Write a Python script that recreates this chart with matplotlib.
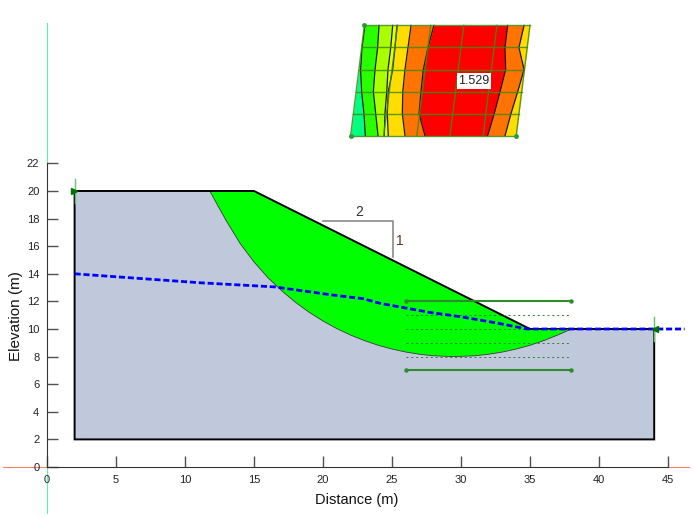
import numpy as np
import matplotlib
matplotlib.use('Agg')
import matplotlib.pyplot as plt

plt.rcParams['font.family'] = ['Liberation Sans', 'DejaVu Sans']

# slope geometry (m)
ground_x = [2, 15, 35, 44, 44, 2, 2]
ground_y = [20, 20, 10, 10, 2, 2, 20]

# slip surface
slip_x = [11.8, 12.4, 13, 14, 15, 16, 17, 18, 19, 20, 21, 22, 23, 24, 25, 26, 27, 28, 29.5, 31, 32, 33, 34, 35, 36, 37, 38]
slip_y = [20, 18.9, 17.83, 16.19, 14.86, 13.73, 12.78, 11.94, 11.21, 10.58, 10.03, 9.56, 9.16, 8.82, 8.55, 8.33, 8.17, 8.06, 8.0, 8.06, 8.17, 8.33, 8.55, 8.82, 9.16, 9.56, 10]
# top of the sliding mass
crest_x = [11.8, 15, 35, 38]
crest_y = [20, 20, 10, 10]

# water table
water_x = [2, 11.1, 16.5, 20.7, 22.9, 24.13, 27.75, 29.9, 32.5, 34.8, 46.2]
water_y = [14, 13.35, 13.05, 12.46, 12.2, 11.86, 11.2, 10.9, 10.45, 10, 10]

# entry and exit ranges
range_solid_y = [12, 7]
range_dash_y = [11, 10, 9, 8]
range_x = [26, 38]

# safety factor grid
grid_y = [32, 30.4, 28.8, 27.2, 25.6, 24]
grid_left = [23, 22.8, 22.6, 22.4, 22.2, 22]
grid_right = [35, 34.8, 34.6, 34.4, 34.2, 34]

# contour boundaries across the grid, left to right, one value per grid row
b1 = [23.04, 22.83, 22.73, 22.80, 22.97, 23.07]
b2 = [24.06, 23.96, 23.77, 23.65, 23.82, 23.99]
b3 = [25.05, 24.91, 24.71, 24.62, 24.49, 24.44]
b4 = [25.36, 25.22, 25.05, 24.73, 24.66, 24.73]
b5 = [26.38, 26.16, 25.94, 25.78, 25.75, 25.94]
b6 = [28.04, 27.61, 27.27, 27.10, 26.96, 27.39]
b7 = [33.38, 33.19, 33.24, 32.83, 32.41, 31.93]
b8 = [34.57, 34.20, 34.57, 34.11, 33.62, 33.19]
band_colors = ['#00ff80', '#2aff00', '#aaff00', '#e6ff00', '#ffdd00', '#ff7300', '#ff0000', '#ff7300', '#ffdd00']

fos_label = '1.529'
fos_x = 30.95
fos_y = 27.97

xticks = [0, 5, 10, 15, 20, 25, 30, 35, 40, 45]
yticks = [0, 2, 4, 6, 8, 10, 12, 14, 16, 18, 20, 22]

fig = plt.figure(figsize=(6.95, 5.18), dpi=100)
ax = fig.add_axes([0, 0, 1, 1])
scale = 13.8
ax.set_xlim(-47 / scale, (695 - 47) / scale)
ax.set_ylim((467 - 518) / scale, 467 / scale)

ax.fill(ground_x, ground_y, color='#c0c8dc', zorder=1, lw=0)
ax.fill(slip_x + crest_x[::-1], slip_y + crest_y[::-1], color='#00ff00', zorder=2, lw=0)
ax.plot(slip_x, slip_y, color='#3a3a3a', lw=0.6, zorder=3)
ax.plot(ground_x, ground_y, color='black', lw=1.4, zorder=4, solid_joinstyle='miter')

# slope ratio symbol
ax.plot([20, 25.05, 25.05], [17.8, 17.8, 15.2], color='#808080', lw=1.1, zorder=3)
ax.text(22.6, 18.5, '2', fontsize=10, ha='center', va='center', color='#333333')
ax.text(25.6, 16.4, '1', fontsize=10, ha='center', va='center', color='#5a3a20')

for y in range_solid_y:
    ax.plot(range_x, [y, y], color='#2e8b2e', lw=1.5, marker='o', ms=2.2, zorder=5)
for y in range_dash_y:
    ax.plot(range_x, [y, y], color='#2e7d2e', lw=0.7, ls=(0, (2, 3)), zorder=5)

ax.plot(water_x, water_y, color='#0000ff', lw=2.0, ls=(0, (2.2, 1)), zorder=6)

# water table end markers
ax.plot([2, 2], [19.1, 20.9], color='#6fbe6f', lw=1, zorder=7)
ax.plot([44, 44], [9.1, 10.9], color='#6fbe6f', lw=1, zorder=7)
ax.plot([1.95], [20], marker='>', color='#007000', ms=4.5, zorder=7)
ax.plot([44.05], [10], marker='<', color='#007000', ms=4.5, zorder=7)

# safety factor contours
edges = [grid_left, b1, b2, b3, b4, b5, b6, b7, b8, grid_right]
for i, c in enumerate(band_colors):
    ax.fill_betweenx(grid_y, edges[i], edges[i + 1], color=c, lw=0, zorder=2)
for b in [b1, b2, b3, b4, b5, b6, b7, b8]:
    ax.plot(b, grid_y, color='#1a1a1a', lw=0.9, zorder=3)
for i, y in enumerate(grid_y):
    ax.plot([grid_left[i], grid_right[i]], [y, y], color='#3f8a12', lw=1.0, alpha=0.85, zorder=4)
for i in range(6):
    f = i / 5
    ax.plot([grid_left[0] + f * 12, grid_left[-1] + f * 12], [grid_y[0], grid_y[-1]],
            color='#3f8a12', lw=1.0, alpha=0.85, zorder=4)
ax.plot([grid_left[0], grid_left[-1], grid_right[-1]], [grid_y[0], grid_y[-1], grid_y[-1]],
        ls='none', marker='o', color='#2a9a3a', ms=2.5, zorder=5)
ax.text(fos_x, fos_y, fos_label, fontsize=9, ha='center', va='center', color='#222222', zorder=6,
        bbox=dict(facecolor='white', edgecolor='none', pad=1.2))

# axes
for s in ['top', 'right']:
    ax.spines[s].set_visible(False)
ax.spines['left'].set_position(('data', 0))
ax.spines['bottom'].set_position(('data', 0))
ax.spines['left'].set_bounds(0, 22)
ax.spines['bottom'].set_bounds(0, 45)
ax.spines['left'].set_color('#333333')
ax.spines['bottom'].set_color('#333333')
ax.set_xticks(xticks)
ax.set_yticks(yticks)
ax.tick_params(axis='both', direction='in', length=8.2, width=1, color='#505050',
               labelsize=8, labelcolor='#222222', pad=5.5)
ax.set_xlabel('Distance (m)', fontsize=10.5, color='#111111')
ax.set_ylabel('Elevation (m)', fontsize=11, color='#111111')
ax.xaxis.set_label_coords(357 / 695, 1 - 493 / 518)
ax.yaxis.set_label_coords(23 / 695, 1 - 316 / 518)

# axis extension lines
ax.plot([0, 0], [22, 32.2], color='#60f0a0', lw=0.8, zorder=0)
ax.plot([0, 0], [0, -3.3], color='#60f0a0', lw=0.8, zorder=0)
ax.plot([-3.2, 0], [0, 0], color='#f88070', lw=0.8, zorder=0)
ax.plot([45, 46.5], [0, 0], color='#f88070', lw=0.8, zorder=0)

fig.savefig('out.png', dpi=100)
